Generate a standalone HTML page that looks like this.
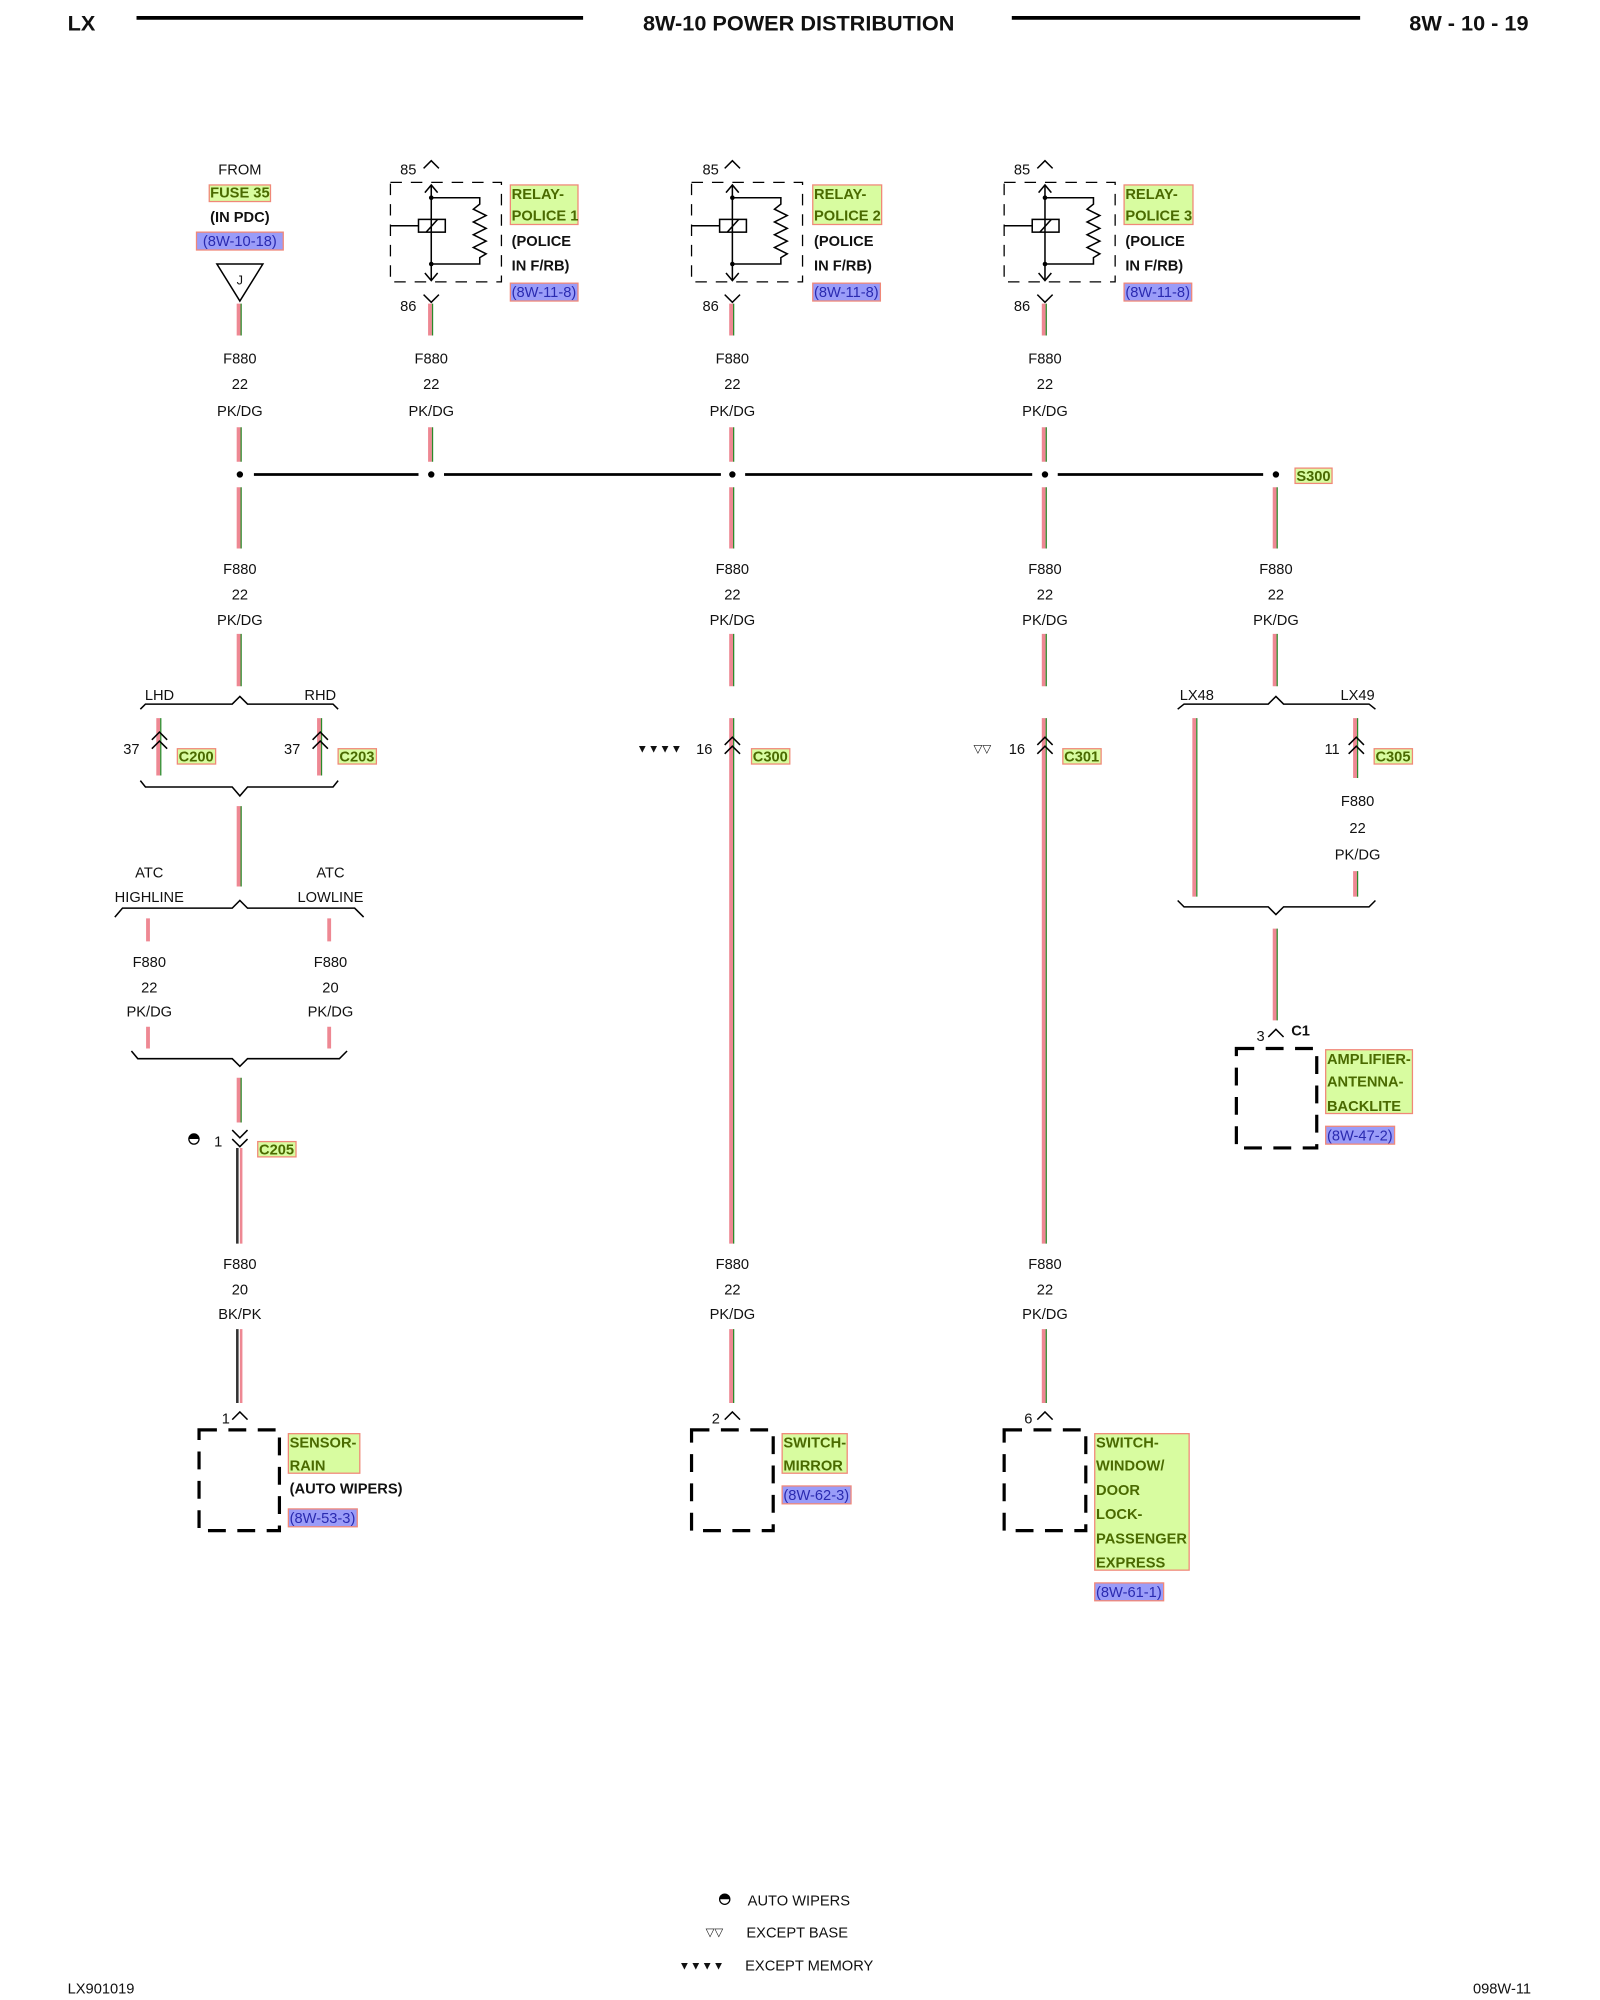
<!DOCTYPE html>
<html><head><meta charset="utf-8"><style>
html,body{margin:0;padding:0;background:#fff}
svg{display:block}
text{font-family:"Liberation Sans",Arial,sans-serif;font-size:11.5px;fill:#111}
.b{font-weight:bold}
.g{font-weight:bold;fill:#4a6a00}
.u{fill:#2a2ab0}
.m{text-anchor:middle}
.pk{stroke:#ee8893;stroke-width:3}
.dg{stroke:#2a8a2a;stroke-width:1}
.bk{stroke:#333;stroke-width:2}
.ln{stroke:#000;stroke-width:1.2;fill:none}
.gb{fill:#d8fca0;stroke:#f08878;stroke-width:1}
.bb{fill:#9a9cf8;stroke:#f08878;stroke-width:1}
.db{fill:none;stroke:#000;stroke-width:2.5;stroke-dasharray:14,9}
.dr{fill:none;stroke:#000;stroke-width:1;stroke-dasharray:9,7}
</style></head><body>
<svg width="1600" height="2000" viewBox="0 0 1254 1568" preserveAspectRatio="none" xmlns="http://www.w3.org/2000/svg">
<!-- header -->
<text x="53" y="24" class="b" style="font-size:17px">LX</text>
<line x1="107" y1="14" x2="457" y2="14" stroke="#000" stroke-width="3"/>
<text x="626" y="24" class="b m" style="font-size:17px">8W-10 POWER DISTRIBUTION</text>
<line x1="793" y1="14" x2="1066" y2="14" stroke="#000" stroke-width="3"/>
<text x="1198" y="24" class="b" style="font-size:17px;text-anchor:end">8W - 10 - 19</text>

<!-- column 188 top -->
<text x="188" y="137" class="m">FROM</text>
<rect x="164" y="145" width="48" height="13" class="gb"/><text x="188" y="155" class="g m">FUSE 35</text>
<text x="188" y="174" class="b m">(IN PDC)</text>
<rect x="154" y="182" width="68" height="14" class="bb"/><text x="188" y="193" class="u m">(8W-10-18)</text>
<path d="M170 207 L206 207 L188 236 Z" class="ln"/><text x="188" y="223" class="m" style="font-size:10px">J</text>

<!-- relays -->
<g id="relay">
<path d="M332 132 L338 126 L344 132" class="ln"/>
<rect x="306" y="143" width="87" height="78" class="dr"/>
<line x1="338" y1="145" x2="338" y2="220" class="ln"/>
<path d="M333 151 L338 145 L343 151 M333 214 L338 220 L343 214" class="ln"/>
<circle cx="338" cy="155" r="1.8"/><circle cx="338" cy="207" r="1.8"/>
<path d="M338 155 L376 155 L376 160 L371 164 L381 169 L371 174 L381 179 L371 184 L381 189 L371 194 L381 199 L376 202 L376 207 L338 207" class="ln"/>
<rect x="328" y="172" width="21" height="10" fill="#fff" class="ln"/><line x1="334" y1="182" x2="343" y2="172" class="ln"/>
<line x1="306" y1="177" x2="328" y2="177" class="ln"/>
<path d="M332 231 L338 237 L344 231" class="ln"/>
</g>
<use href="#relay" x="236"/><use href="#relay" x="481"/>
<text x="320" y="137" class="m">85</text><text x="320" y="244" class="m">86</text>
<text x="557" y="137" class="m">85</text><text x="557" y="244" class="m">86</text>
<text x="801" y="137" class="m">85</text><text x="801" y="244" class="m">86</text>
<rect x="400" y="145" width="53" height="31" class="gb"/>
<text x="401" y="156" class="g">RELAY-</text><text x="401" y="173" class="g">POLICE 1</text>
<text x="401" y="193" class="b">(POLICE</text><text x="401" y="212" class="b">IN F/RB)</text>
<rect x="400" y="222" width="53" height="14" class="bb"/><text x="401" y="233" class="u">(8W-11-8)</text>
<rect x="637" y="145" width="54" height="31" class="gb"/>
<text x="638" y="156" class="g">RELAY-</text><text x="638" y="173" class="g">POLICE 2</text>
<text x="638" y="193" class="b">(POLICE</text><text x="638" y="212" class="b">IN F/RB)</text>
<rect x="637" y="222" width="53" height="14" class="bb"/><text x="638" y="233" class="u">(8W-11-8)</text>
<rect x="881" y="145" width="54" height="31" class="gb"/>
<text x="882" y="156" class="g">RELAY-</text><text x="882" y="173" class="g">POLICE 3</text>
<text x="882" y="193" class="b">(POLICE</text><text x="882" y="212" class="b">IN F/RB)</text>
<rect x="881" y="222" width="53" height="14" class="bb"/><text x="882" y="233" class="u">(8W-11-8)</text>

<g>
<path class="pk" d="M187 238V263M337 238V263M573 238V263M818 238V263 M187 335V362M337 335V362M573 335V362M818 335V362 M187 382V430M573 382V430M818 382V430M999 382V430 M187 497V538M573 497V538M818 497V538M999 497V538"/>
<path class="dg" d="M189 238V263M339 238V263M575 238V263M820 238V263 M189 335V362M339 335V362M575 335V362M820 335V362 M189 382V430M575 382V430M820 382V430M1001 382V430 M189 497V538M575 497V538M820 497V538M1001 497V538"/>
</g>
<g>
<text x="188" y="285" class="m">F880</text><text x="188" y="305" class="m">22</text><text x="188" y="326" class="m">PK/DG</text>
<text x="338" y="285" class="m">F880</text><text x="338" y="305" class="m">22</text><text x="338" y="326" class="m">PK/DG</text>
<text x="574" y="285" class="m">F880</text><text x="574" y="305" class="m">22</text><text x="574" y="326" class="m">PK/DG</text>
<text x="819" y="285" class="m">F880</text><text x="819" y="305" class="m">22</text><text x="819" y="326" class="m">PK/DG</text>
<text x="188" y="450" class="m">F880</text><text x="188" y="470" class="m">22</text><text x="188" y="490" class="m">PK/DG</text>
<text x="574" y="450" class="m">F880</text><text x="574" y="470" class="m">22</text><text x="574" y="490" class="m">PK/DG</text>
<text x="819" y="450" class="m">F880</text><text x="819" y="470" class="m">22</text><text x="819" y="490" class="m">PK/DG</text>
<text x="1000" y="450" class="m">F880</text><text x="1000" y="470" class="m">22</text><text x="1000" y="490" class="m">PK/DG</text>
</g>
<!-- bus -->
<path d="M199 372H328M348 372H565M584 372H809M829 372H990" stroke="#000" stroke-width="2.2"/>
<circle cx="188" cy="372" r="2.5"/><circle cx="338" cy="372" r="2.5"/><circle cx="574" cy="372" r="2.5"/><circle cx="819" cy="372" r="2.5"/><circle cx="1000" cy="372" r="2.5"/>
<rect x="1015" y="367" width="29" height="12" class="gb"/><text x="1016" y="377" class="g">S300</text>

<!-- left column lower -->
<text x="125" y="549" class="m">LHD</text><text x="251" y="549" class="m">RHD</text>
<path d="M110 556L114 552H182L188 546L194 552H261L265 556" class="ln"/>
<path class="pk" d="M124 563V608M250 563V608M187 632V695M116 720V738M258 720V738M116 805V822M258 805V822M187 845V880"/>
<path class="dg" d="M126 563V608M252 563V608M189 632V695M189 845V880"/>
<path d="M119 580L125 574L131 580M119 587L125 581L131 587M245 580L251 574L257 580M245 587L251 581L257 587" class="ln"/>
<text x="103" y="591" class="m">37</text><text x="229" y="591" class="m">37</text>
<rect x="139" y="587" width="30" height="12" class="gb"/><text x="140" y="597" class="g">C200</text>
<rect x="265" y="587" width="30" height="12" class="gb"/><text x="266" y="597" class="g">C203</text>
<path d="M110 612L114 617H182L188 624L194 617H261L265 612" class="ln"/>
<text x="117" y="688" class="m">ATC</text><text x="117" y="707" class="m">HIGHLINE</text>
<text x="259" y="688" class="m">ATC</text><text x="259" y="707" class="m">LOWLINE</text>
<path d="M90 719L96 712H182L188 706L194 712H278L285 719" class="ln"/>
<text x="117" y="758" class="m">F880</text><text x="117" y="778" class="m">22</text><text x="117" y="797" class="m">PK/DG</text>
<text x="259" y="758" class="m">F880</text><text x="259" y="778" class="m">20</text><text x="259" y="797" class="m">PK/DG</text>
<path d="M103 824L108 830H182L188 836L194 830H266L272 824" class="ln"/>
<path d="M182 886L188 892L194 886M182 893L188 899L194 893" class="ln"/>
<text x="171" y="899" class="m">1</text>
<path d="M148 893A4 4 0 0 1 156 893Z" fill="#000"/><circle cx="152" cy="893" r="4" fill="none" stroke="#000"/>
<rect x="202" y="895" width="30" height="12" class="gb"/><text x="203" y="905" class="g">C205</text>
<path class="bk" d="M186 900V975M186 1042V1100"/><path class="pk" d="M189 900V975M189 1042V1100" style="stroke-width:2"/>
<text x="188" y="995" class="m">F880</text><text x="188" y="1015" class="m">20</text><text x="188" y="1034" class="m">BK/PK</text>
<path d="M182 1113L188 1107L194 1113" class="ln"/><text x="177" y="1116" class="m">1</text>
<rect x="156" y="1121" width="63" height="79" class="db"/>
<rect x="226" y="1124" width="56" height="31" class="gb"/>
<text x="227" y="1135" class="g">SENSOR-</text><text x="227" y="1153" class="g">RAIN</text>
<text x="227" y="1171" class="b">(AUTO WIPERS)</text>
<rect x="226" y="1183" width="54" height="14" class="bb"/><text x="227" y="1194" class="u">(8W-53-3)</text>

<!-- column 574 -->
<path class="pk" d="M573 563V975M573 1042V1100"/><path class="dg" d="M575 563V975M575 1042V1100"/>
<path d="M568 584L574 578L580 584M568 591L574 585L580 591" class="ln"/>
<text x="499" y="590" style="font-size:9px">▼▼▼▼</text><text x="552" y="591" class="m">16</text>
<rect x="589" y="587" width="30" height="12" class="gb"/><text x="590" y="597" class="g">C300</text>
<text x="574" y="995" class="m">F880</text><text x="574" y="1015" class="m">22</text><text x="574" y="1034" class="m">PK/DG</text>
<path d="M568 1113L574 1107L580 1113" class="ln"/><text x="561" y="1116" class="m">2</text>
<rect x="542" y="1121" width="64" height="79" class="db"/>
<rect x="613" y="1124" width="51" height="31" class="gb"/>
<text x="614" y="1135" class="g">SWITCH-</text><text x="614" y="1153" class="g">MIRROR</text>
<rect x="613" y="1165" width="54" height="14" class="bb"/><text x="614" y="1176" class="u">(8W-62-3)</text>

<!-- column 819 -->
<path class="pk" d="M818 563V975M818 1042V1100"/><path class="dg" d="M820 563V975M820 1042V1100"/>
<path d="M813 584L819 578L825 584M813 591L819 585L825 591" class="ln"/>
<text x="763" y="590" style="font-size:9px">▽▽</text><text x="797" y="591" class="m">16</text>
<rect x="833" y="587" width="30" height="12" class="gb"/><text x="834" y="597" class="g">C301</text>
<text x="819" y="995" class="m">F880</text><text x="819" y="1015" class="m">22</text><text x="819" y="1034" class="m">PK/DG</text>
<path d="M813 1113L819 1107L825 1113" class="ln"/><text x="806" y="1116" class="m">6</text>
<rect x="787" y="1121" width="64" height="79" class="db"/>
<rect x="858" y="1124" width="74" height="107" class="gb"/>
<text x="859" y="1135" class="g">SWITCH-</text><text x="859" y="1153" class="g">WINDOW/</text><text x="859" y="1172" class="g">DOOR</text>
<text x="859" y="1191" class="g">LOCK-</text><text x="859" y="1210" class="g">PASSENGER</text><text x="859" y="1229" class="g">EXPRESS</text>
<rect x="858" y="1241" width="54" height="14" class="bb"/><text x="859" y="1252" class="u">(8W-61-1)</text>

<!-- column 1000 -->
<text x="938" y="549" class="m">LX48</text><text x="1064" y="549" class="m">LX49</text>
<path d="M923 556L928 552H994L1000 546L1006 552H1073L1078 556" class="ln"/>
<path class="pk" d="M936 563V703M1062 563V610M1062 683V703M999 728V800"/>
<path class="dg" d="M938 563V703M1064 563V610M1064 683V703M1001 728V800"/>
<path d="M1057 584L1063 578L1069 584M1057 591L1063 585L1069 591" class="ln"/>
<text x="1044" y="591" class="m">11</text>
<rect x="1077" y="587" width="30" height="12" class="gb"/><text x="1078" y="597" class="g">C305</text>
<text x="1064" y="632" class="m">F880</text><text x="1064" y="653" class="m">22</text><text x="1064" y="674" class="m">PK/DG</text>
<path d="M923 706L928 711H994L1000 717L1006 711H1073L1078 706" class="ln"/>
<path d="M994 813L1000 807L1006 813" class="ln"/><text x="988" y="816" class="m">3</text><text x="1012" y="812" class="b">C1</text>
<rect x="969" y="822" width="63" height="78" class="db"/>
<rect x="1039" y="823" width="68" height="50" class="gb"/>
<text x="1040" y="834" class="g">AMPLIFIER-</text><text x="1040" y="852" class="g">ANTENNA-</text><text x="1040" y="871" class="g">BACKLITE</text>
<rect x="1039" y="883" width="54" height="14" class="bb"/><text x="1040" y="894" class="u">(8W-47-2)</text>

<!-- legend -->
<path d="M564 1489A4 4 0 0 1 572 1489Z" fill="#000"/><circle cx="568" cy="1489" r="4" fill="none" stroke="#000"/>
<text x="586" y="1494">AUTO WIPERS</text>
<text x="553" y="1518" style="font-size:9px">▽▽</text><text x="585" y="1519">EXCEPT BASE</text>
<text x="532" y="1544" style="font-size:9px">▼▼▼▼</text><text x="584" y="1545">EXCEPT MEMORY</text>
<text x="53" y="1563">LX901019</text>
<text x="1200" y="1563" style="text-anchor:end">098W-11</text>
</svg>
</body></html>
